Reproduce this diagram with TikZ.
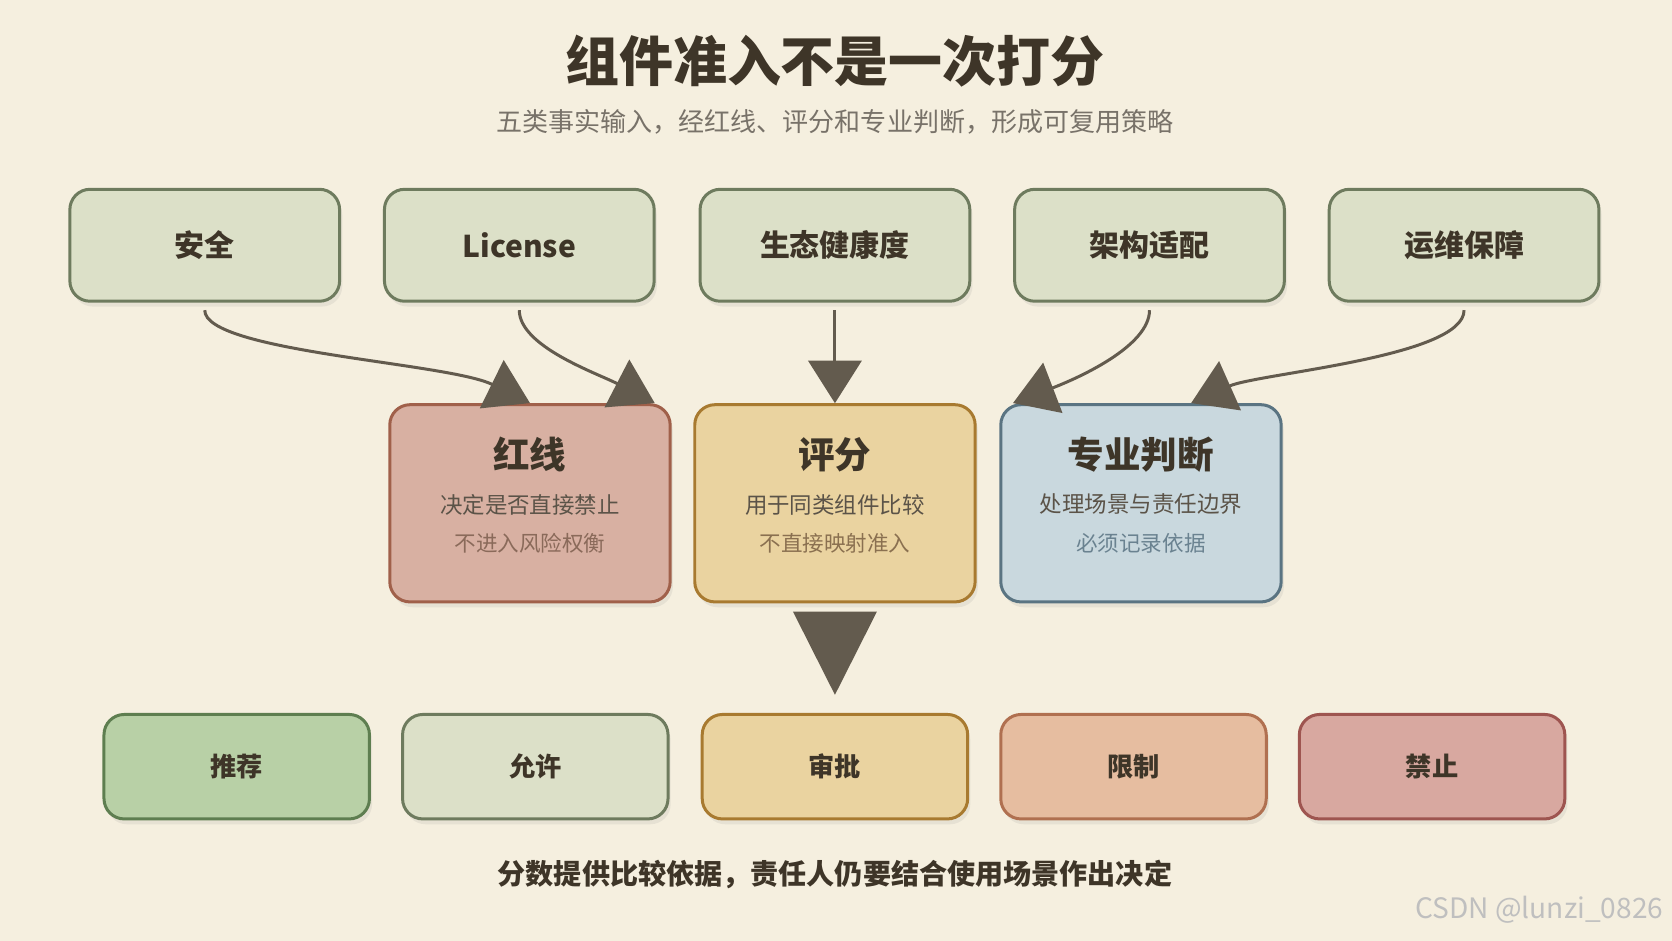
\documentclass[tikz,border=0pt]{standalone}
\usepackage{fontspec}
\setmainfont{Noto Sans CJK SC}
\usetikzlibrary{arrows.meta,shadows}
\definecolor{bg}{HTML}{F5EFDF}
\definecolor{ink}{HTML}{3E3528}
\definecolor{arr}{HTML}{635B4E}
\definecolor{sageF}{HTML}{DCE0C8}\definecolor{sageD}{HTML}{6E7B5E}
\definecolor{redF}{HTML}{D8B0A2}\definecolor{redD}{HTML}{A0604A}
\definecolor{ylwF}{HTML}{EAD3A0}\definecolor{ylwD}{HTML}{A87A30}
\definecolor{bluF}{HTML}{C9D8DE}\definecolor{bluD}{HTML}{5A7482}
\definecolor{grnF}{HTML}{B8D0A6}\definecolor{grnD}{HTML}{5E7E50}
\definecolor{orgF}{HTML}{E6BDA0}\definecolor{orgD}{HTML}{B07050}
\definecolor{banF}{HTML}{D8A8A0}\definecolor{banD}{HTML}{9E5550}
\begin{document}
\begin{tikzpicture}
[x=0.02cm, y=-0.02cm, >={Triangle[length=0.8cm, width=1.0cm]},
 box/.style={draw=#1D, fill=#1F, line width=1.6pt, rounded corners=0.38cm, drop shadow={opacity=0.12, shadow xshift=0.05cm, shadow yshift=-0.1cm}, text=ink, font=\bfseries},
 src/.style={box=sage, minimum width=5.06cm, minimum height=2.1cm, font=\bfseries\fontsize{16}{18}\selectfont},
 mid/.style={box=#1, minimum width=5.26cm, minimum height=3.7cm},
 out/.style={box=#1, minimum width=4.98cm, minimum height=1.96cm, font=\bfseries\fontsize{14}{16}\selectfont},
 flow/.style={->, draw=arr, line width=1.6pt}]
\fill [bg] (0,0) rectangle (1568,882);
\useasboundingbox (0,0) rectangle (1568,882);
% titles
\node (title) [text=ink, font=\bfseries\fontsize{28.8}{32}\selectfont] at (783,57) {组件准入不是一次打分};
\node (sub) [text=ink!70, font=\fontsize{13.9}{15}\selectfont] at (783,114) {五类事实输入，经红线、评分和专业判断，形成可复用策略};
% sources
\node (s1) [src] at (192,230) {安全};
\node (s2) [src] at (487,230) {License};
\node (s3) [src] at (783,230) {生态健康度};
\node (s4) [src] at (1078,230) {架构适配};
\node (s5) [src] at (1373,230) {运维保障};
% judging
\node (red) [mid=red] at (497,472) {};
\node (score) [mid=ylw] at (783,472) {};
\node (expert) [mid=blu] at (1070,472) {};
\foreach \n/\t/\a/\b/\c in {red/红线/决定是否直接禁止/不进入风险权衡/8A6A5A, score/评分/用于同类组件比较/不直接映射准入/8A7050, expert/专业判断/处理场景与责任边界/必须记录依据/6A8290} {
  \node [text=ink, font=\bfseries\fontsize{19.5}{22}\selectfont] at ([yshift=-0.96cm]\n.north) {\t};
  \node [text=ink!85, font=\fontsize{12}{13}\selectfont] at ([yshift=-1.9cm]\n.north) {\a};
  \definecolor{sc}{HTML}{\c}
  \node [text=sc, font=\fontsize{11.5}{13}\selectfont] at ([yshift=-2.62cm]\n.north) {\b};
}
% outcomes
\node (o1) [out=grn] at (222,719) {推荐};
\node (o2) [out=sage] at (502,719) {允许};
\node (o3) [out=ylw] at (783,719) {审批};
\node (o4) [out=org] at (1063,719) {限制};
\node (o5) [out=ban] at (1343,719) {禁止};
% arrows
\coordinate (t1) at (497,378);
\coordinate (t2) at (614,378);
\coordinate (t4) at (950,378);
\coordinate (t5) at (1117,378);
\draw [flow] ([yshift=-0.14cm]s1.south) .. controls (192,330) and (420,340) .. (t1);
\draw [flow] ([yshift=-0.14cm]s2.south) .. controls (487,325) and (560,350) .. (t2);
\draw [flow] ([yshift=-0.14cm]s3.south) -- (score.north);
\draw [flow] ([yshift=-0.14cm]s4.south) .. controls (1078,325) and (1010,355) .. (t4);
\draw [flow] ([yshift=-0.14cm]s5.south) .. controls (1373,335) and (1180,350) .. (t5);
\draw [draw=arr, line width=1.6pt, -{Triangle[length=1.56cm, width=1.56cm]}, shorten <=0.2cm] ([yshift=-1pt]score.south) -- ([yshift=0.34cm]o3.north);
% footer
\node (foot) [text=ink, font=\bfseries\fontsize{15}{17}\selectfont] at (783,820) {分数提供比较依据，责任人仍要结合使用场景作出决定};
\node (mark) [text=black!25, font=\fontsize{15}{17}\selectfont, anchor=east] at (1566,853) {CSDN @lunzi\_0826};
\end{tikzpicture}
\end{document}
